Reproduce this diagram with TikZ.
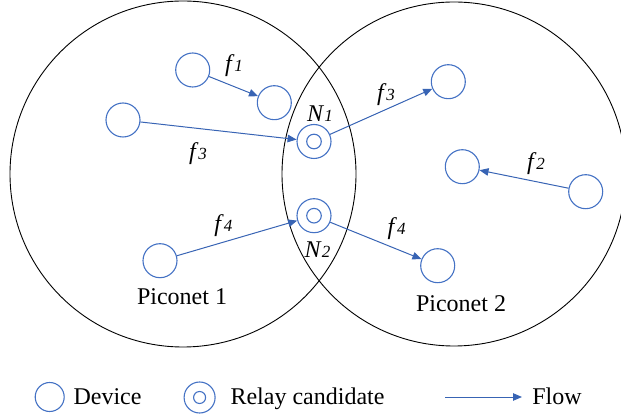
\documentclass[tikz,border=0pt]{standalone}
\usepackage{fontspec}
\setmainfont{Liberation Serif}
\usetikzlibrary{arrows.meta}
\definecolor{devblue}{RGB}{68,114,196}
\definecolor{flowblue}{RGB}{56,100,180}
\newcommand\flab[2]{\textit{#1}{\fontsize{17}{17}\selectfont\textit{#2}}}
\begin{document}
\begin{tikzpicture}[x=1pt,y=-1pt,
  net/.style={draw=black,line width=0.9pt},
  dev/.style={circle,draw=devblue,line width=1.1pt,minimum size=34pt,inner sep=0pt},
  relay/.style={dev,path picture={\draw[devblue,line width=1.1pt] (path picture bounding box.center) circle (7.3pt);}},
  ldev/.style={dev,minimum size=29pt},
  lrelay/.style={dev,minimum size=31pt,path picture={\draw[devblue,line width=1.1pt] (path picture bounding box.center) circle (6pt);}},
  flow/.style={draw=flowblue,line width=1pt,-{Triangle[length=9pt,width=7.5pt]}},
  lbl/.style={font=\fontsize{24}{28}\selectfont,inner sep=0pt,anchor=base}
]
\useasboundingbox (0,0) rectangle (621,419);
\clip (0,0) rectangle (621,419);
% piconets
\node[circle,net,minimum size=346pt,inner sep=0pt] (p1) at (183,174) {};
\node[circle,net,minimum size=344pt,inner sep=0pt] (p2) at (454,174) {};
% devices
\node[dev] (d1) at (192.7,70) {};
\node[dev] (d2) at (274.3,102.7) {};
\node[dev] (d3) at (123,120) {};
\node[dev] (d4) at (448.3,81.7) {};
\node[dev] (d5) at (462.3,166.7) {};
\node[dev] (d6) at (585.7,191.7) {};
\node[dev] (d7) at (160,260.7) {};
\node[dev] (d8) at (437.7,265.7) {};
\node[relay] (n1) at (314,141.5) {};
\node[relay] (n2) at (314,215.7) {};
% flows
\draw[flow] (d1) -- (d2);
\draw[flow] (d3) -- (n1);
\draw[flow] (n1) -- (d4);
\draw[flow] (d6) -- (d5);
\draw[flow] (d7) -- (n2);
\draw[flow] (n2) -- (d8);
% labels
\node[lbl] (lf1) at (234,72) {\flab{f}{1}};
\node[lbl] (ln1) at (320,121.7) {\flab{N}{1}};
\node[lbl] (lf3r) at (386,100.7) {\flab{f}{3}};
\node[lbl] (lf3l) at (198,159.3) {\flab{f}{3}};
\node[lbl] (lf2) at (536,169.3) {\flab{f}{2}};
\node[lbl] (lf4l) at (223.4,231.7) {\flab{f}{4}};
\node[lbl] (lf4r) at (396.7,235) {\flab{f}{4}};
\node[lbl] (ln2) at (317.5,258) {\flab{N}{2}};
\node[lbl] (pc1) at (182,305) {Piconet 1};
\node[lbl] (pc2) at (461,311.7) {Piconet 2};
% legend
\node[ldev] (lgd) at (49.7,397) {};
\node[lbl] (lgdt) at (107.5,404.5) {Device};
\node[lrelay] (lgr) at (199.6,397.5) {};
\node[lbl] (lgrt) at (307.5,404.5) {Relay candidate};
\coordinate (lgf1) at (445,397);
\coordinate (lgf2) at (522,397);
\draw[flow] (lgf1) -- (lgf2);
\node[lbl] (lgft) at (557,404.5) {Flow};
\end{tikzpicture}
\end{document}
